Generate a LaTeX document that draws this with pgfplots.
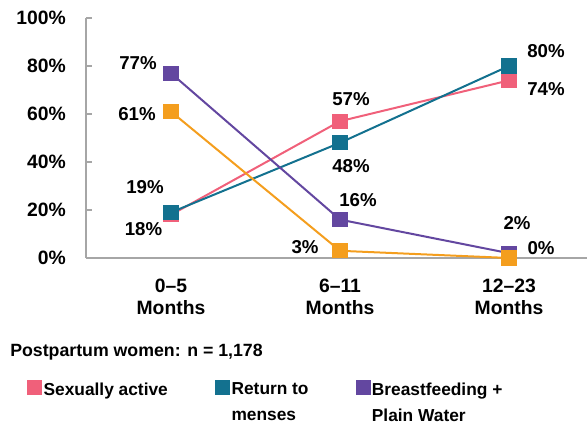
\documentclass[border=0pt]{standalone}
\usepackage{fontspec}
\setmainfont{Liberation Sans}
\usepackage{pgfplots}
\pgfplotsset{compat=1.18}
\definecolor{cpink}{HTML}{F0607A}
\definecolor{cteal}{HTML}{13718F}
\definecolor{cpurple}{HTML}{6347A0}
\definecolor{corange}{HTML}{F49E1E}
\definecolor{caxis}{HTML}{A6A6A6}
\tikzset{lbl/.style={font=\bfseries\fontsize{14}{16}\selectfont, inner sep=0pt}}
\begin{document}
\begin{tikzpicture}
\useasboundingbox (-64.5pt,-125.25pt) rectangle (375.75pt,193.5pt);
\begin{axis}[
  at={(0pt,0pt)}, anchor=south west,
  scale only axis, width=375.75pt, height=180pt,
  xmin=-0.503, xmax=2.4615, ymin=0, ymax=100,
  axis x line*=bottom, axis y line*=left,
  axis line style={caxis, line width=1.5pt},
  clip=false,
  xtick={0,1,2},
  xticklabels={{0–5\\Months},{6–11\\Months},{12–23\\Months}},
  xticklabel style={align=center, inner sep=0pt, yshift=-15.5pt},
  xtick style={draw=none},
  ytick={0,20,40,60,80,100},
  yticklabel={\pgfmathprintnumber{\tick}\%},
  yticklabel style={inner sep=0pt, anchor=east, xshift=-15pt},
  ytick style={caxis, line width=1.5pt},
  tick align=inside, major tick length=4.5pt,
  tick label style={font=\bfseries\fontsize{14.5}{16.5}\selectfont},
  /pgf/number format/assume math mode=true,
  legend columns=3,
  legend cell align=left,
  legend style={at={(-0.1178,-0.5085)}, anchor=north west, draw=none, fill=none,
    inner sep=0pt, column sep=0pt, nodes={inner sep=0pt},
    font=\bfseries\fontsize{13}{19.5}\selectfont,
    /tikz/every even column/.append style={column sep=0pt}},
  legend image code/.code={\fill[#1] (0pt,-3.4pt) rectangle (9.75pt,6.4pt);},
  every axis plot/.append style={line width=1.5pt, mark=square*, mark size=4.9pt},
]
\addplot[color=cpink] coordinates {(0,18) (1,57) (2,74)};
\addlegendentry{\makebox[129.75pt][l]{\hspace*{1pt}Sexually active}}
\addplot[color=cteal] coordinates {(0,19) (1,48) (2,80)};
\addlegendentry{\parbox[t]{94pt}{\hspace*{1pt}Return to\\\hspace*{1pt}menses}}
\addplot[color=cpurple] coordinates {(0,77) (1,16) (2,2)};
\addlegendentry{\parbox[t]{150pt}{\hspace*{1pt}Breastfeeding +\\\hspace*{1pt}Plain Water}}
\addplot[color=corange, forget plot] coordinates {(0,61) (1,3) (2,0)};

\node[lbl, xshift=-24.75pt, yshift=7.5pt] at (axis cs:0,77) {77\%};
\node[lbl, xshift=-25.5pt, yshift=-1.5pt] at (axis cs:0,61) {61\%};
\node[lbl, xshift=-19.5pt, yshift=18.75pt] at (axis cs:0,19) {19\%};
\node[lbl, xshift=-20.6pt, yshift=-10.5pt] at (axis cs:0,18) {18\%};
\node[lbl, xshift=8.25pt, yshift=16.5pt] at (axis cs:1,57) {57\%};
\node[lbl, xshift=8.25pt, yshift=-17.25pt] at (axis cs:1,48) {48\%};
\node[lbl, xshift=13.5pt, yshift=15pt] at (axis cs:1,16) {16\%};
\node[lbl, xshift=-26.25pt, yshift=3pt] at (axis cs:1,3) {3\%};
\node[lbl, xshift=27.75pt, yshift=11.25pt] at (axis cs:2,80) {80\%};
\node[lbl, xshift=27.75pt, yshift=-6.75pt] at (axis cs:2,74) {74\%};
\node[lbl, xshift=6pt, yshift=22.5pt] at (axis cs:2,2) {2\%};
\node[lbl, xshift=24pt, yshift=7.5pt] at (axis cs:2,0) {0\%};
\end{axis}
\node[anchor=base west, inner sep=0pt, font=\bfseries\fontsize{13.3}{16}\selectfont] at (-57pt,-74.25pt) {Postpartum women: n = 1,178};
\end{tikzpicture}
\end{document}
